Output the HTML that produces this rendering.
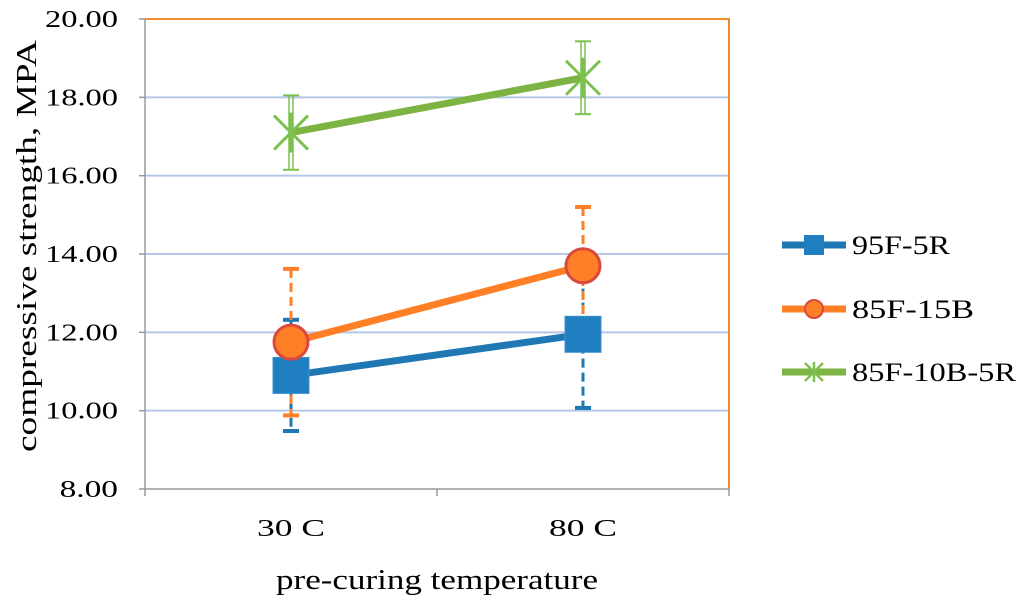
<!DOCTYPE html>
<html><head><meta charset="utf-8"><style>
body{margin:0;background:#fff;}
svg text{font-family:"Liberation Serif",serif;fill:#000;}
</style></head><body>
<svg id="c" width="1024" height="610" xmlns="http://www.w3.org/2000/svg"></svg>
<script>
const categories=["30 C","80 C"];
const yTicks=[8,10,12,14,16,18,20];
const seriesNames=["95F-5R","85F-15B","85F-10B-5R"];
const s1=[10.9,11.95], s1Err=[1.42,1.88];
const s2=[11.75,13.7], s2Err=[1.87,1.5];
const s3=[17.1,18.5], s3Err=[0.95,0.93];

const svg=document.getElementById('c');
const NS="http://www.w3.org/2000/svg";
const L=145,R=729,T=19,B=489,ymin=8,ymax=20;
const y=v=>B-(v-ymin)/(ymax-ymin)*(B-T);
const x=i=>L+(i+0.5)*(R-L)/categories.length;
function mk(t,a,p){const e=document.createElementNS(NS,t);for(const k in a)e.setAttribute(k,a[k]);(p||svg).appendChild(e);return e;}

yTicks.forEach(v=>{
  if(v>ymin&&v<ymax){const g=mk('line',{x1:L,x2:R,y1:y(v),y2:y(v),stroke:'#b4c7e7','stroke-width':2});
  
  }
  const s=v.toFixed(2);
  const t=mk('text',{x:118,y:y(v)+8,'text-anchor':'end','font-size':24,textLength:s.length*14.6,lengthAdjust:'spacingAndGlyphs'});t.textContent=s;
  
  
  const tk=mk('line',{x1:L-6,x2:L,y1:y(v),y2:y(v),stroke:'#999','stroke-width':1.5});
  
  
});
const border=mk('path',{d:`M${L},${T}H${R}V${B}`,fill:'none',stroke:'#f08a2a','stroke-width':2});


const ax=mk('path',{d:`M${L},${T}V${B}H${R}`,fill:'none',stroke:'#999','stroke-width':1.5});


[0,1,2].forEach(i=>{const tk=mk('line',{x1:L+i*(R-L)/2,x2:L+i*(R-L)/2,y1:B,y2:B+7,stroke:'#999','stroke-width':1.5});
  
  });
categories.forEach((c,i)=>{const t=mk('text',{x:x(i),y:536,'text-anchor':'middle','font-size':24,textLength:68,lengthAdjust:'spacingAndGlyphs'});t.textContent=c;
  
  });
const xt=mk('text',{x:437,y:589,'text-anchor':'middle','font-size':28,textLength:322,lengthAdjust:'spacingAndGlyphs'});xt.textContent='pre-curing temperature';


const yt=mk('text',{x:0,y:0,'text-anchor':'middle','font-size':28,textLength:412,lengthAdjust:'spacingAndGlyphs',transform:`translate(36,246) rotate(-90)`});yt.textContent='compressive strength, MPA';



const colors=['#1f77b4','#ff7f27','#7cb342'];
const data=[[s1,s1Err],[s2,s2Err],[s3,s3Err]];
data.forEach(([v,e],si)=>{
  const col=si==2?'#7cc150':colors[si];
  v.forEach((val,i)=>{
    const g=mk('g',{});
    
    
    const xx=x(i);
    if(si==2){
      [-2,2].forEach(d=>mk('line',{x1:xx+d,x2:xx+d,y1:y(val+e[i]),y2:y(val-e[i]),stroke:col,'stroke-width':1.5},g));
    } else {
      mk('line',{x1:xx,x2:xx,y1:y(val+e[i]),y2:y(val-e[i]),stroke:col,'stroke-width':3,'stroke-dasharray':'9,5'},g);
    }
    [val+e[i],val-e[i]].forEach(w=>mk('line',{x1:xx-8,x2:xx+8,y1:y(w),y2:y(w),stroke:col,'stroke-width':si==2?2:4},g));
  });
});
data.forEach(([v],si)=>{
  const pl=mk('polyline',{points:v.map((val,i)=>x(i)+','+y(val)).join(' '),fill:'none',stroke:colors[si],'stroke-width':7});
  
  
  v.forEach((val,i)=>{
    let m;
    if(si==0)m=mk('rect',{x:x(i)-18,y:y(val)-18,width:36,height:36,fill:'#1f7fc0',stroke:'#3c8fd0','stroke-width':1});
    else if(si==1)m=mk('circle',{cx:x(i),cy:y(val),r:17,fill:'#ff7f27',stroke:'#d94a3c','stroke-width':3});
    else{m=mk('g',{stroke:'#7cc150','stroke-width':3});const xx=x(i),yy=y(val);
      mk('line',{x1:xx-17,y1:yy-17,x2:xx+17,y2:yy+17},m);mk('line',{x1:xx-17,y1:yy+17,x2:xx+17,y2:yy-17},m);mk('line',{x1:xx,y1:yy-20,x2:xx,y2:yy+20},m);}
    
    
  });
});
const ly=[245,309,372];
const lw=[98,122,164];
seriesNames.forEach((n,si)=>{
  const g=mk('g',{});
  
  
  mk('line',{x1:782,x2:846,y1:ly[si],y2:ly[si],stroke:colors[si],'stroke-width':7},g);
  if(si==0)mk('rect',{x:804,y:ly[si]-10,width:20,height:20,fill:'#1f7fc0'},g);
  else if(si==1)mk('circle',{cx:814,cy:ly[si],r:9,fill:'#ff7f27',stroke:'#d94a3c','stroke-width':2},g);
  else{const h=mk('g',{stroke:'#7cc150','stroke-width':2.5},g);mk('line',{x1:805,y1:ly[si]-9,x2:823,y2:ly[si]+9},h);mk('line',{x1:805,y1:ly[si]+9,x2:823,y2:ly[si]-9},h);mk('line',{x1:814,y1:ly[si]-10,x2:814,y2:ly[si]+10},h);}
  const t=mk('text',{x:852,y:ly[si]+9,'font-size':26,textLength:lw[si],lengthAdjust:'spacingAndGlyphs'},g);t.textContent=n;
});
</script>
</body></html>
